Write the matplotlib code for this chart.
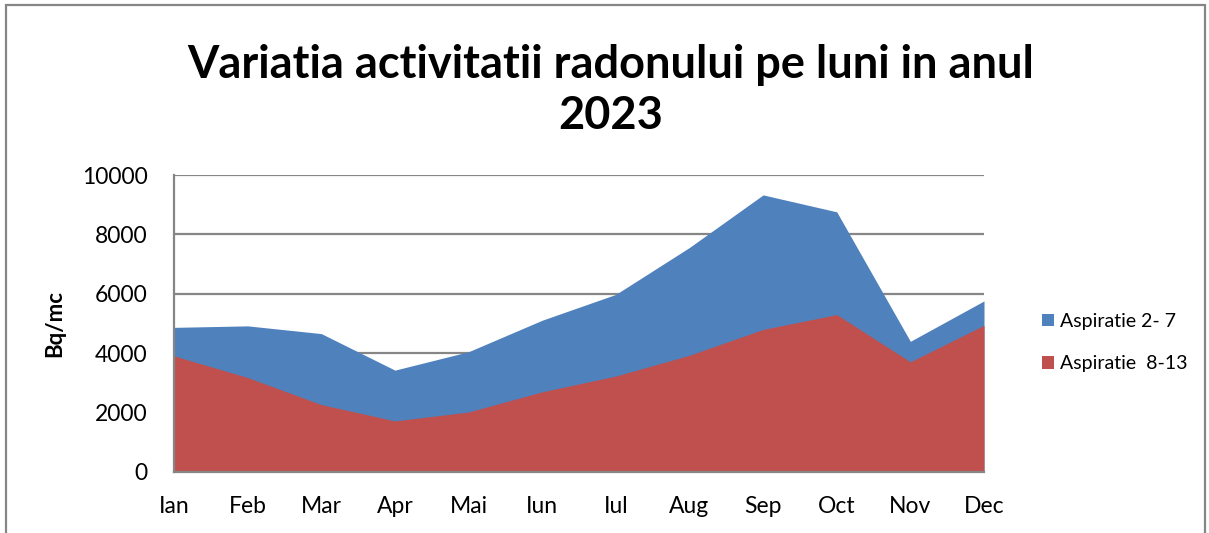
import matplotlib
matplotlib.use("Agg")
import numpy as np
from matplotlib import pyplot as plt
from matplotlib.patches import Rectangle

luni = ['Ian', 'Feb', 'Mar', 'Apr', 'Mai', 'Iun', 'Iul', 'Aug', 'Sep', 'Oct', 'Nov', 'Dec']
asp_2_7 = [4870, 4920, 4660, 3430, 4050, 5110, 5980, 7560, 9330, 8760, 4400, 5760]
asp_8_13 = [3910, 3180, 2270, 1720, 2020, 2700, 3230, 3930, 4800, 5300, 3710, 4940]
yticks = [0, 2000, 4000, 6000, 8000, 10000]

blue = '#4F81BD'
red = '#C0504D'
grid_col = '#868686'

plt.rcParams['font.family'] = ['Lato', 'DejaVu Sans']

fig = plt.figure(figsize=(12.09, 5.33), dpi=100)
ax = fig.add_axes([174/1209, 1 - 472/533, (984-174)/1209, (472-175)/533])

x = np.arange(len(luni))
ax.fill_between(x, 0, asp_2_7, color=blue, lw=0, label='Aspiratie 2- 7', zorder=2)
ax.fill_between(x, 0, asp_8_13, color=red, lw=0, label='Aspiratie  8-13', zorder=3)

ax.set_xlim(0, 11)
ax.set_ylim(0, 10000)
ax.set_yticks(yticks)
ax.set_xticks(x)
ax.set_xticklabels(luni)
ax.yaxis.grid(True, color=grid_col, lw=1.6, zorder=1)
ax.set_axisbelow(True)
ax.tick_params(axis='both', length=0, labelsize=16.5, colors='black')
ax.tick_params(axis='y', pad=19)
ax.tick_params(axis='x', pad=17)
for s in ['top', 'right']:
    ax.spines[s].set_visible(False)
for s in ['left', 'bottom']:
    ax.spines[s].set_color(grid_col)
    ax.spines[s].set_linewidth(1.6)
    ax.spines[s].set_zorder(4)

ax.set_ylabel('Bq/mc', fontsize=16, fontweight='bold', labelpad=12)

leg = ax.legend(handles=ax.collections[:2], loc='center left', bbox_to_anchor=(1.05, 0.435),
                frameon=False, fontsize=14, handlelength=0.6, handleheight=0.6,
                labelspacing=1.3, handletextpad=0.35)

fig.text(0.505, 1 - 78/533, 'Variatia activitatii radonului pe luni in anul',
         ha='center', va='baseline', fontsize=32.5, fontweight='bold')
fig.text(0.505, 1 - 129/533, '2023', ha='center', va='baseline', fontsize=32.5, fontweight='bold')

fig.patches.append(Rectangle((6/1209, -0.1), (1205-6)/1209, 1.1 - 5/533,
                             transform=fig.transFigure, fill=False,
                             edgecolor=grid_col, lw=1.6))

fig.savefig('out.png', dpi=100)
